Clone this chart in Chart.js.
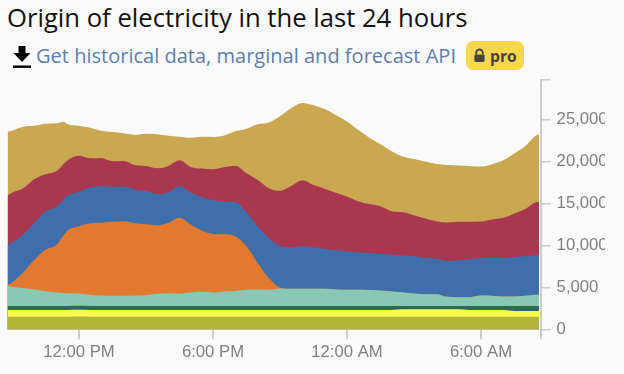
<!DOCTYPE html>
<html lang="en">
<head>
<meta charset="UTF-8">
<title>Origin of electricity</title>
<script src="https://cdn.jsdelivr.net/npm/chart.js"></script>
<style>
  html, body { margin: 0; padding: 0; background: #fafafa; }
  body { width: 624px; height: 374px; position: relative; overflow: hidden; font-family: "Open Sans", sans-serif; }
  h1 { position: absolute; left: 7px; top: 1px; margin: 0; font-size: 25.650px; line-height: 34px; font-weight: 400; color: #111; white-space: nowrap; }
  .api { position: absolute; left: 36px; top: 43px; font-size: 20.050px; line-height: 26px; color: #5f7ea8; white-space: nowrap; }
  .dl { position: absolute; left: 13px; top: 46px; }
  .pro { position: absolute; left: 465.500px; top: 41px; width: 58px; height: 29px; background: #f8d84a; border-radius: 7px; }
  .pro svg { position: absolute; left: 7px; top: 7px; }
  .pro span { position: absolute; left: 24.500px; top: 2px; font-size: 15.700px; line-height: 26px; font-weight: 700; color: #444; }
  #wrap { position: absolute; left: 0; top: 64px; width: 605px; height: 310px; }
</style>
</head>
<body>
<h1>Origin of electricity in the last 24 hours</h1>
<svg class="dl" width="18" height="22" viewBox="0 0 18 22"><path d="M5.500 0h7v7h5L9 16 .5 7h5z" fill="#000"/><rect x="0" y="19.500" width="18" height="2.400" fill="#000"/></svg>
<div class="api">Get historical data, marginal and forecast API</div>
<div class="pro">
  <svg width="13" height="15" viewBox="0 0 14 16"><path d="M3.500 7V5a3.500 3.500 0 0 1 7 0v2" fill="none" stroke="#444" stroke-width="2"/><rect x="1.500" y="7" width="11" height="8" rx="1.500" fill="#444"/></svg>
  <span>pro</span>
</div>
<div id="wrap"><canvas id="originChart"></canvas></div>

<script>
// hours since midnight of the first day
const hours = [8.8, 9, 9.5, 10, 10.5, 11, 11.3, 11.5, 12, 12.5, 13, 13.5, 14, 14.5, 15, 15.5, 16, 16.5, 17, 17.5, 18, 18.5, 19, 19.5, 20, 20.5, 21, 21.5, 22, 22.5, 23, 23.5, 24, 24.5, 25, 25.5, 26, 26.5, 27, 27.5, 28, 28.5, 29, 29.5, 30, 30.5, 31, 31.5, 32, 32.5, 32.6];

const olive = [1530, 1530, 1530, 1530, 1520, 1530, 1530, 1530, 1540, 1530, 1530, 1530, 1530, 1530, 1520, 1530, 1530, 1530, 1530, 1530, 1530, 1530, 1530, 1530, 1530, 1530, 1530, 1530, 1530, 1530, 1530, 1530, 1530, 1530, 1530, 1530, 1530, 1530, 1530, 1530, 1530, 1530, 1530, 1530, 1530, 1530, 1530, 1530, 1530, 1530, 1530];
const yellow = [800, 800, 800, 800, 800, 800, 800, 800, 800, 800, 800, 800, 800, 800, 800, 800, 800, 800, 800, 800, 800, 800, 800, 800, 800, 800, 800, 800, 800, 800, 800, 800, 800, 800, 800, 800, 800, 880, 880, 880, 880, 880, 880, 800, 800, 800, 800, 680, 680, 680, 680];
const darkGreen = [480, 480, 480, 480, 480, 480, 480, 480, 480, 480, 480, 480, 480, 480, 480, 480, 480, 480, 480, 480, 480, 480, 480, 480, 480, 480, 480, 480, 480, 480, 480, 480, 480, 480, 480, 480, 480, 400, 400, 400, 400, 400, 400, 480, 480, 480, 480, 600, 600, 600, 600];
const teal = [2390, 2270, 2120, 1950, 1760, 1590, 1550, 1520, 1470, 1320, 1230, 1200, 1200, 1230, 1320, 1440, 1520, 1470, 1590, 1670, 1590, 1710, 1760, 1910, 1950, 1910, 2070, 2030, 2030, 2030, 2030, 1950, 1910, 1910, 1880, 1830, 1710, 1590, 1470, 1400, 1400, 1080, 1040, 1040, 1230, 1200, 1110, 1110, 1200, 1320, 1320];
const orange = [120, 510, 1870, 3550, 4940, 5700, 6820, 7490, 8010, 8530, 8660, 8810, 8890, 8610, 8410, 8170, 8370, 9020, 8100, 7300, 6980, 6820, 6530, 5180, 3160, 1400, 120, 0, 0, 0, 0, 0, 0, 0, 0, 0, 0, 0, 0, 0, 0, 0, 0, 0, 0, 0, 0, 0, 0, 0, 0];
const blue = [4660, 4780, 4510, 4390, 4580, 4510, 4310, 4150, 4110, 4230, 4340, 4140, 4110, 3990, 3950, 3710, 3620, 3740, 3790, 3980, 4020, 3880, 4070, 4030, 4380, 4780, 4930, 4940, 5110, 4940, 4750, 4660, 4580, 4460, 4430, 4350, 4390, 4430, 4430, 4310, 4220, 4270, 4380, 4500, 4470, 4510, 4590, 4710, 4700, 4750, 4760];
const red = [5980, 5910, 5500, 5180, 4390, 4260, 4190, 4190, 4260, 3500, 3380, 3070, 3060, 2940, 2990, 3070, 3150, 3110, 3060, 3400, 3670, 4100, 4310, 4660, 5500, 5930, 6600, 7300, 7810, 7420, 7180, 6870, 6540, 6100, 5810, 5690, 5180, 5140, 4900, 4700, 4460, 4580, 4590, 4470, 4340, 4580, 4780, 5180, 5670, 6290, 6300];
const gold = [7570, 7390, 7330, 6370, 6020, 5670, 5060, 4270, 3590, 3620, 3230, 3470, 3280, 3590, 3830, 4030, 3590, 2790, 3470, 3780, 3860, 3790, 4110, 5300, 6630, 7820, 8850, 9260, 9210, 9500, 9480, 9250, 8930, 8490, 7890, 7380, 7140, 6630, 6700, 6780, 6820, 6850, 6700, 6650, 6540, 6580, 6850, 7180, 7490, 7980, 8010];

const xTicks = [12, 18, 24, 30];
const xTickLabels = ['12:00 PM', '6:00 PM', '12:00 AM', '6:00 AM'];
const yTicks = [0, 5000, 10000, 15000, 20000, 25000];
const xMin = 8.79, xMax = 32.67, yMax = 29700;

function series(values, color) {
    return {
        data: values.map((v, i) => ({ x: hours[i], y: v })),
        backgroundColor: color,
        borderWidth: 0,
        pointRadius: 0,
        cubicInterpolationMode: 'monotone',
        fill: 'origin'
    };
}

const tickFont = { family: '"Liberation Sans", Arial, sans-serif', size: 16.7 };

new Chart(document.getElementById('originChart'), {
    type: 'line',
    data: {
        // first dataset is painted last, so each band covers the ones above it
        datasets: [
            series(olive, '#b1b73b'),
            series(yellow, '#fbfb4e'),
            series(darkGreen, '#2a6a56'),
            series(teal, '#88c8b4'),
            series(orange, '#e3792e'),
            series(blue, '#3e6fab'),
            series(red, '#aa3750'),
            series(gold, '#caa852')
        ]
    },
    options: {
        responsive: true,
        maintainAspectRatio: false,
        animation: false,
        layout: { padding: { left: 7.3, top: 6.7, right: 0, bottom: 0 } },
        plugins: { legend: { display: false }, tooltip: { enabled: false } },
        scales: {
            x: {
                type: 'linear',
                min: xMin,
                max: xMax,
                border: { display: false },
                grid: { drawOnChartArea: false, drawTicks: true, tickLength: 10, color: '#cccccc', lineWidth: 2 },
                afterBuildTicks: scale => { scale.ticks = xTicks.concat(xMax).map(value => ({ value })); },
                afterFit: scale => { scale.height = 44.5; },
                ticks: {
                    autoSkip: false,
                    maxRotation: 0,
                    padding: 3,
                    color: '#808080',
                    font: tickFont,
                    callback: value => {
                        const i = xTicks.indexOf(value);
                        return i < 0 ? '' : xTickLabels[i];
                    }
                }
            },
            y: {
                position: 'right',
                stacked: true,
                min: 0,
                max: yMax,
                border: { display: true, color: '#cccccc', width: 2 },
                grid: { drawOnChartArea: false, drawTicks: true, tickLength: 10, color: '#cccccc', lineWidth: 1.5 },
                afterBuildTicks: scale => { scale.ticks = yTicks.concat(yMax).map(value => ({ value })); },
                afterFit: scale => { scale.width = 64.4; },
                ticks: {
                    padding: 6,
                    color: '#808080',
                    font: tickFont,
                    callback: value => value === yMax ? '' : value.toLocaleString('en-US')
                }
            }
        }
    }
});
</script>
</body>
</html>
